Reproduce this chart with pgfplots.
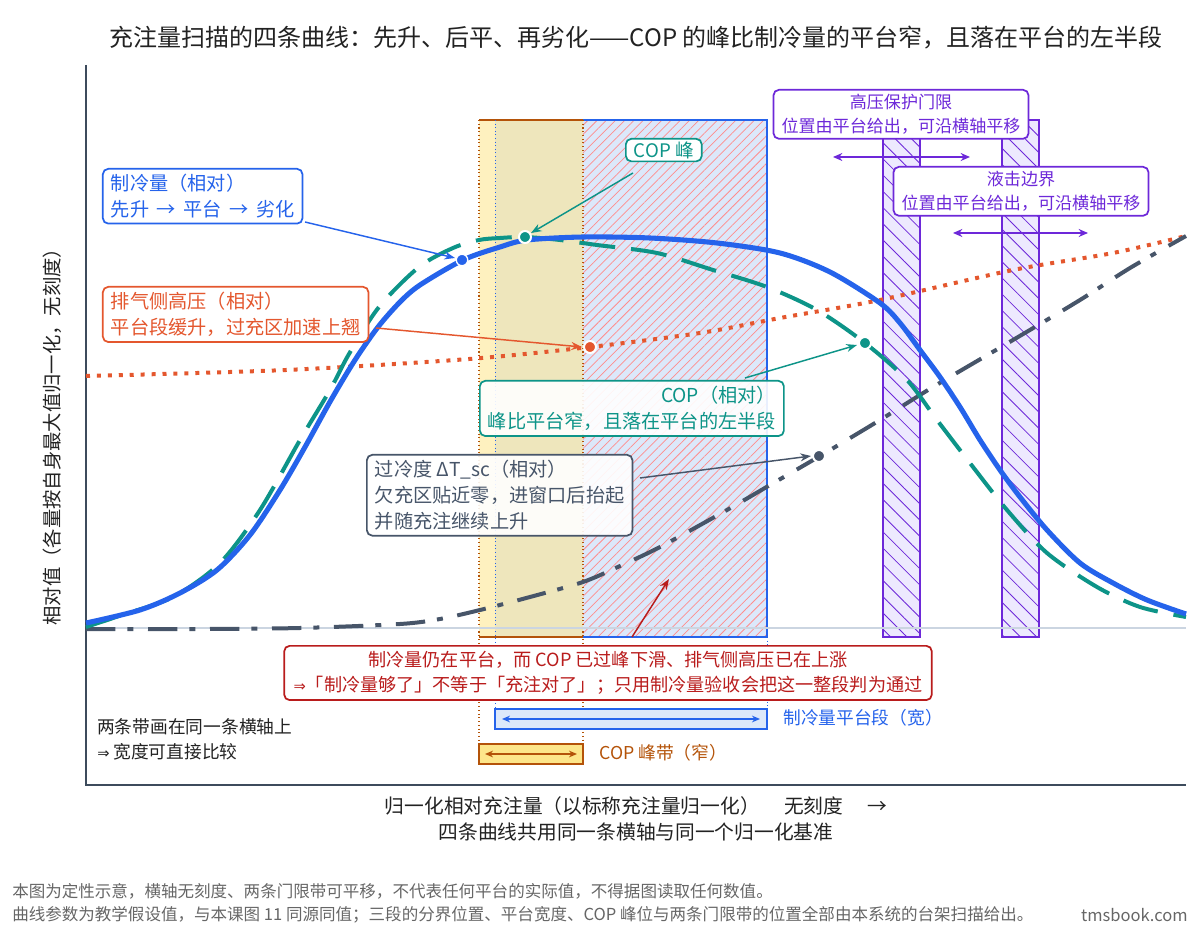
\documentclass[border=0pt]{standalone}
\usepackage{fontspec}
\setmainfont{Noto Sans CJK SC}
\newfontfamily\dejavu{DejaVu Sans}
\usepackage{pgfplots}
\pgfplotsset{compat=1.18}
\usetikzlibrary{arrows.meta,patterns,patterns.meta}
\definecolor{cblue}{HTML}{2563EB}
\definecolor{cteal}{HTML}{0D9488}
\definecolor{cred}{HTML}{E4572E}
\definecolor{cgray}{HTML}{475569}
\definecolor{cdred}{HTML}{B91C1C}
\definecolor{cpurple}{HTML}{6D28D9}
\definecolor{cpurpl}{HTML}{EDE9FE}
\definecolor{cbrown}{HTML}{B45309}
\definecolor{cbandb}{HTML}{DCE8FA}
\definecolor{cyel}{HTML}{FDE68A}
\definecolor{caxis}{HTML}{3D4B5C}
\definecolor{cbase}{HTML}{CBD5E1}
\definecolor{ctext}{HTML}{222222}
\definecolor{cfoot}{HTML}{666666}
\tikzset{
  ann/.style={draw=#1, text=#1, fill=white, rounded corners=4pt, line width=1.3pt,
    inner xsep=6pt, inner ysep=4pt, font=\fontsize{14.4}{19.5}\selectfont},
  arr/.style={-{Stealth[length=8pt,width=6pt]}, #1, line width=1.1pt},
}
\newcommand{\darr}{{\dejavu\fontsize{11}{14}\selectfont ⇒}}
\begin{document}
\begin{tikzpicture}
\path[use as bounding box] (0,0) rectangle (900pt,697.5pt);
\begin{axis}[at={(64.5pt,108.75pt)}, anchor=south west, scale only axis,
  width=825pt, height=540pt, xmin=86, xmax=1186, ymin=65, ymax=785,
  y dir=reverse, hide axis, clip=false]

% ---- bands ----
\fill[cbandb] (axis cs:495,120) rectangle (axis cs:767,637);
\fill[pattern={Lines[angle=45,distance=4.9pt,line width=0.55pt]}, pattern color=red!45] (axis cs:583,120) rectangle (axis cs:767,637);
\fill[cyel, fill opacity=0.55] (axis cs:479,120) rectangle (axis cs:583,637);
\draw[cblue, line width=1.1pt] (axis cs:583,120) -- (axis cs:767,120) -- (axis cs:767,637) -- (axis cs:583,637);
\draw[cbrown, line width=1.1pt] (axis cs:479,120) -- (axis cs:583,120);
\draw[cbrown, line width=1.1pt] (axis cs:479,637) -- (axis cs:583,637);
\draw[cbrown, line width=0.8pt, dotted] (axis cs:479,120) -- (axis cs:479,744);
\draw[cbrown, line width=0.8pt, dotted] (axis cs:583,120) -- (axis cs:583,744);
\draw[cblue, line width=0.7pt, dotted] (axis cs:495,120) -- (axis cs:495,709);
\draw[cblue, line width=0.7pt, dotted] (axis cs:767,637) -- (axis cs:767,709);

\fill[cpurpl] (axis cs:883,120) rectangle (axis cs:920,637);
\fill[pattern={Lines[angle=-45,distance=8.6pt,line width=0.6pt]}, pattern color=cpurple] (axis cs:883,120) rectangle (axis cs:920,637);
\draw[cpurple, line width=1.5pt] (axis cs:883,120) rectangle (axis cs:920,637);
\fill[cpurpl] (axis cs:1002,120) rectangle (axis cs:1039,637);
\fill[pattern={Lines[angle=-45,distance=8.6pt,line width=0.6pt]}, pattern color=cpurple] (axis cs:1002,120) rectangle (axis cs:1039,637);
\draw[cpurple, line width=1.5pt] (axis cs:1002,120) rectangle (axis cs:1039,637);

% baseline and axis lines
\draw[cbase, line width=1pt] (axis cs:86,628) -- (axis cs:1186,628);
\draw[caxis, line width=1.5pt] (axis cs:86,65) -- (axis cs:86,785) -- (axis cs:1186,785);

% ---- curves ----
\addplot[cred, line width=3pt, dash pattern=on 3pt off 5.2pt, smooth] coordinates {
(86,376) (286,370) (469,359) (590,347) (700,333) (780,318) (880,300) (1013,270) (1113,253) (1186,236)};
\addplot[cgray, line width=3pt, dash pattern=on 22pt off 9pt on 4.5pt off 11pt, smooth] coordinates {
(86,629) (200,629) (300,628) (400,624) (440,619) (480,610) (530,597) (583,582) (620,566) (660,547) (727,510) (770,485) (820,456) (880,420) (933,387) (1013,340) (1080,300) (1130,268) (1186,236)};
\addplot[cteal, line width=3pt, dash pattern=on 27pt off 12pt, smooth] coordinates {
(86,627) (122,615) (173,597) (220,563) (260,510) (300,440) (330,390) (349,354) (379,307) (419,267) (453,248) (479,240) (500,238) (525,237) (560,240) (597,245) (657,253) (713,270) (767,287) (817,310) (865,343) (907,380) (937,420) (973,467) (1007,510) (1047,553) (1097,587) (1140,607) (1186,617)};
\addplot[cblue, line width=3.8pt, smooth] coordinates {
(86,623) (140,610) (180,593) (217,570) (250,535) (280,490) (305,447) (331,400) (355,360) (378,327) (400,302) (420,285) (463,260) (500,247) (527,240) (583,237) (650,238) (717,243) (780,253) (830,272) (880,303) (900,323) (920,350) (940,377) (960,407) (980,440) (1000,470) (1020,497) (1047,530) (1080,563) (1113,583) (1147,600) (1186,614)};

% markers
\addplot[only marks, mark=*, mark size=4.3pt, mark options={fill=cblue, draw=white, line width=1pt}] coordinates {(462,260)};
\addplot[only marks, mark=*, mark size=4.5pt, mark options={fill=cteal, draw=white, line width=1.5pt}] coordinates {(525,237)};
\addplot[only marks, mark=*, mark size=4.5pt, mark options={fill=cred, draw=white, line width=1.5pt}] coordinates {(590,347)};
\addplot[only marks, mark=*, mark size=4.5pt, mark options={fill=cteal, draw=white, line width=1.5pt}] coordinates {(865,343)};
\addplot[only marks, mark=*, mark size=4.5pt, mark options={fill=cgray, draw=white, line width=1.5pt}] coordinates {(819,456)};

% ---- arrows ----
\draw[arr=cblue] (axis cs:305,222) -- (axis cs:455,258);
\draw[arr=cred] (axis cs:376,328) -- (axis cs:582,347);
\draw[arr=cteal] (axis cs:633,173) -- (axis cs:531,233);
\draw[arr=cteal] (axis cs:745,378) -- (axis cs:857,345);
\draw[arr=cgray] (axis cs:640,478) -- (axis cs:811,456);
\draw[arr=cdred] (axis cs:632,637) -- (axis cs:669,579);
\draw[{Stealth[length=7pt,width=6pt]}-{Stealth[length=7pt,width=6pt]}, cpurple, line width=1.5pt] (axis cs:833,157) -- (axis cs:970,157);
\draw[{Stealth[length=7pt,width=6pt]}-{Stealth[length=7pt,width=6pt]}, cpurple, line width=1.5pt] (axis cs:953,233) -- (axis cs:1088,233);

% ---- annotation boxes ----
\node[ann=cblue, anchor=north west, align=left] at (axis cs:102,168) {制冷量（相对）\\先升 \,→\, 平台 \,→\, 劣化};
\node[ann=cred, anchor=north west, align=left] at (axis cs:102,286) {排气侧高压（相对）\\平台段缓升，过充区加速上翘};
\node[ann=cteal, anchor=north west, inner ysep=2pt, font=\fontsize{14}{19.5}\selectfont] at (axis cs:625,138) {COP 峰};
\node[ann=cteal, fill opacity=0.9, text opacity=1, anchor=north west, align=right] at (axis cs:479,380) {COP（相对）\\峰比平台窄，且落在平台的左半段};
\node[ann=cgray, fill opacity=0.9, text opacity=1, anchor=north west, align=left] at (axis cs:366,454) {过冷度 ΔT\_sc（相对）\\欠充区贴近零，进窗口后抬起\\并随充注继续上升};
\node[ann=cdred, anchor=north, align=center, inner xsep=7pt, font=\fontsize{13.6}{19}\selectfont] at (axis cs:608,645) {制冷量仍在平台，而 COP 已过峰下滑、排气侧高压已在上涨\\\darr「制冷量够了」不等于「充注对了」；只用制冷量验收会把这一整段判为通过};
\node[ann=cpurple, anchor=north, align=center, font=\fontsize{12.8}{18.5}\selectfont, inner ysep=3pt] at (axis cs:901,89) {高压保护门限\\位置由平台给出，可沿横轴平移};
\node[ann=cpurple, anchor=north, align=center, font=\fontsize{12.8}{18.5}\selectfont, inner ysep=3pt] at (axis cs:1021,166) {液击边界\\位置由平台给出，可沿横轴平移};

% ---- bottom band comparison ----
\filldraw[draw=cblue, fill=cbandb, line width=1.5pt] (axis cs:495,709) rectangle (axis cs:767,729);
\draw[{Stealth[length=6pt,width=5pt]}-{Stealth[length=6pt,width=5pt]}, cblue, line width=1.2pt] (axis cs:502,719) -- (axis cs:760,719);
\filldraw[draw=cbrown, fill=cyel, line width=1.5pt] (axis cs:479,744) rectangle (axis cs:583,764);
\draw[{Stealth[length=6pt,width=5pt]}-{Stealth[length=6pt,width=5pt]}, cbrown, line width=1.2pt] (axis cs:485,754) -- (axis cs:577,754);
\node[anchor=west, text=cblue, font=\fontsize{13.3}{16}\selectfont, inner sep=0pt] at (axis cs:783,718) {制冷量平台段（宽）};
\node[anchor=west, text=cbrown, font=\fontsize{13.3}{16}\selectfont, inner sep=0pt] at (axis cs:599,753) {COP 峰带（窄）};
\node[anchor=north west, text=ctext, align=left, font=\fontsize{13.3}{18.8}\selectfont, inner sep=0pt] at (axis cs:97,718) {两条带画在同一条横轴上\\\darr\ 宽度可直接比较};

% ---- titles and labels ----
\node[text=ctext, font=\fontsize{18}{22}\selectfont] at (axis cs:636,38) {充注量扫描的四条曲线：先升、后平、再劣化——COP 的峰比制冷量的平台窄，且落在平台的左半段};
\node[text=ctext, align=center, font=\fontsize{14.8}{19.5}\selectfont] at (axis cs:636,819) {归一化相对充注量（以标称充注量归一化）\quad\ 无刻度\quad\ →\\四条曲线共用同一条横轴与同一个归一化基准};
\node[text=ctext, rotate=90, font=\fontsize{14.5}{19.5}\selectfont] at (axis cs:52,432) {相对值（各量按自身最大值归一化，无刻度）};
\node[anchor=west, text=cfoot, font=\fontsize{12.4}{14}\selectfont, inner sep=0pt] at (axis cs:12,891) {本图为定性示意，横轴无刻度、两条门限带可平移，不代表任何平台的实际值，不得据图读取任何数值。};
\node[anchor=west, text=cfoot, font=\fontsize{12.4}{14}\selectfont, inner sep=0pt] at (axis cs:12,915) {曲线参数为教学假设值，与本课图 11 同源同值；三段的分界位置、平台宽度、COP 峰位与两条门限带的位置全部由本系统的台架扫描给出。};
\node[anchor=east, text=cfoot, font=\fontsize{12.4}{14}\selectfont, inner sep=0pt] at (axis cs:1188,915) {tmsbook.com};
\end{axis}
\end{tikzpicture}
\end{document}
